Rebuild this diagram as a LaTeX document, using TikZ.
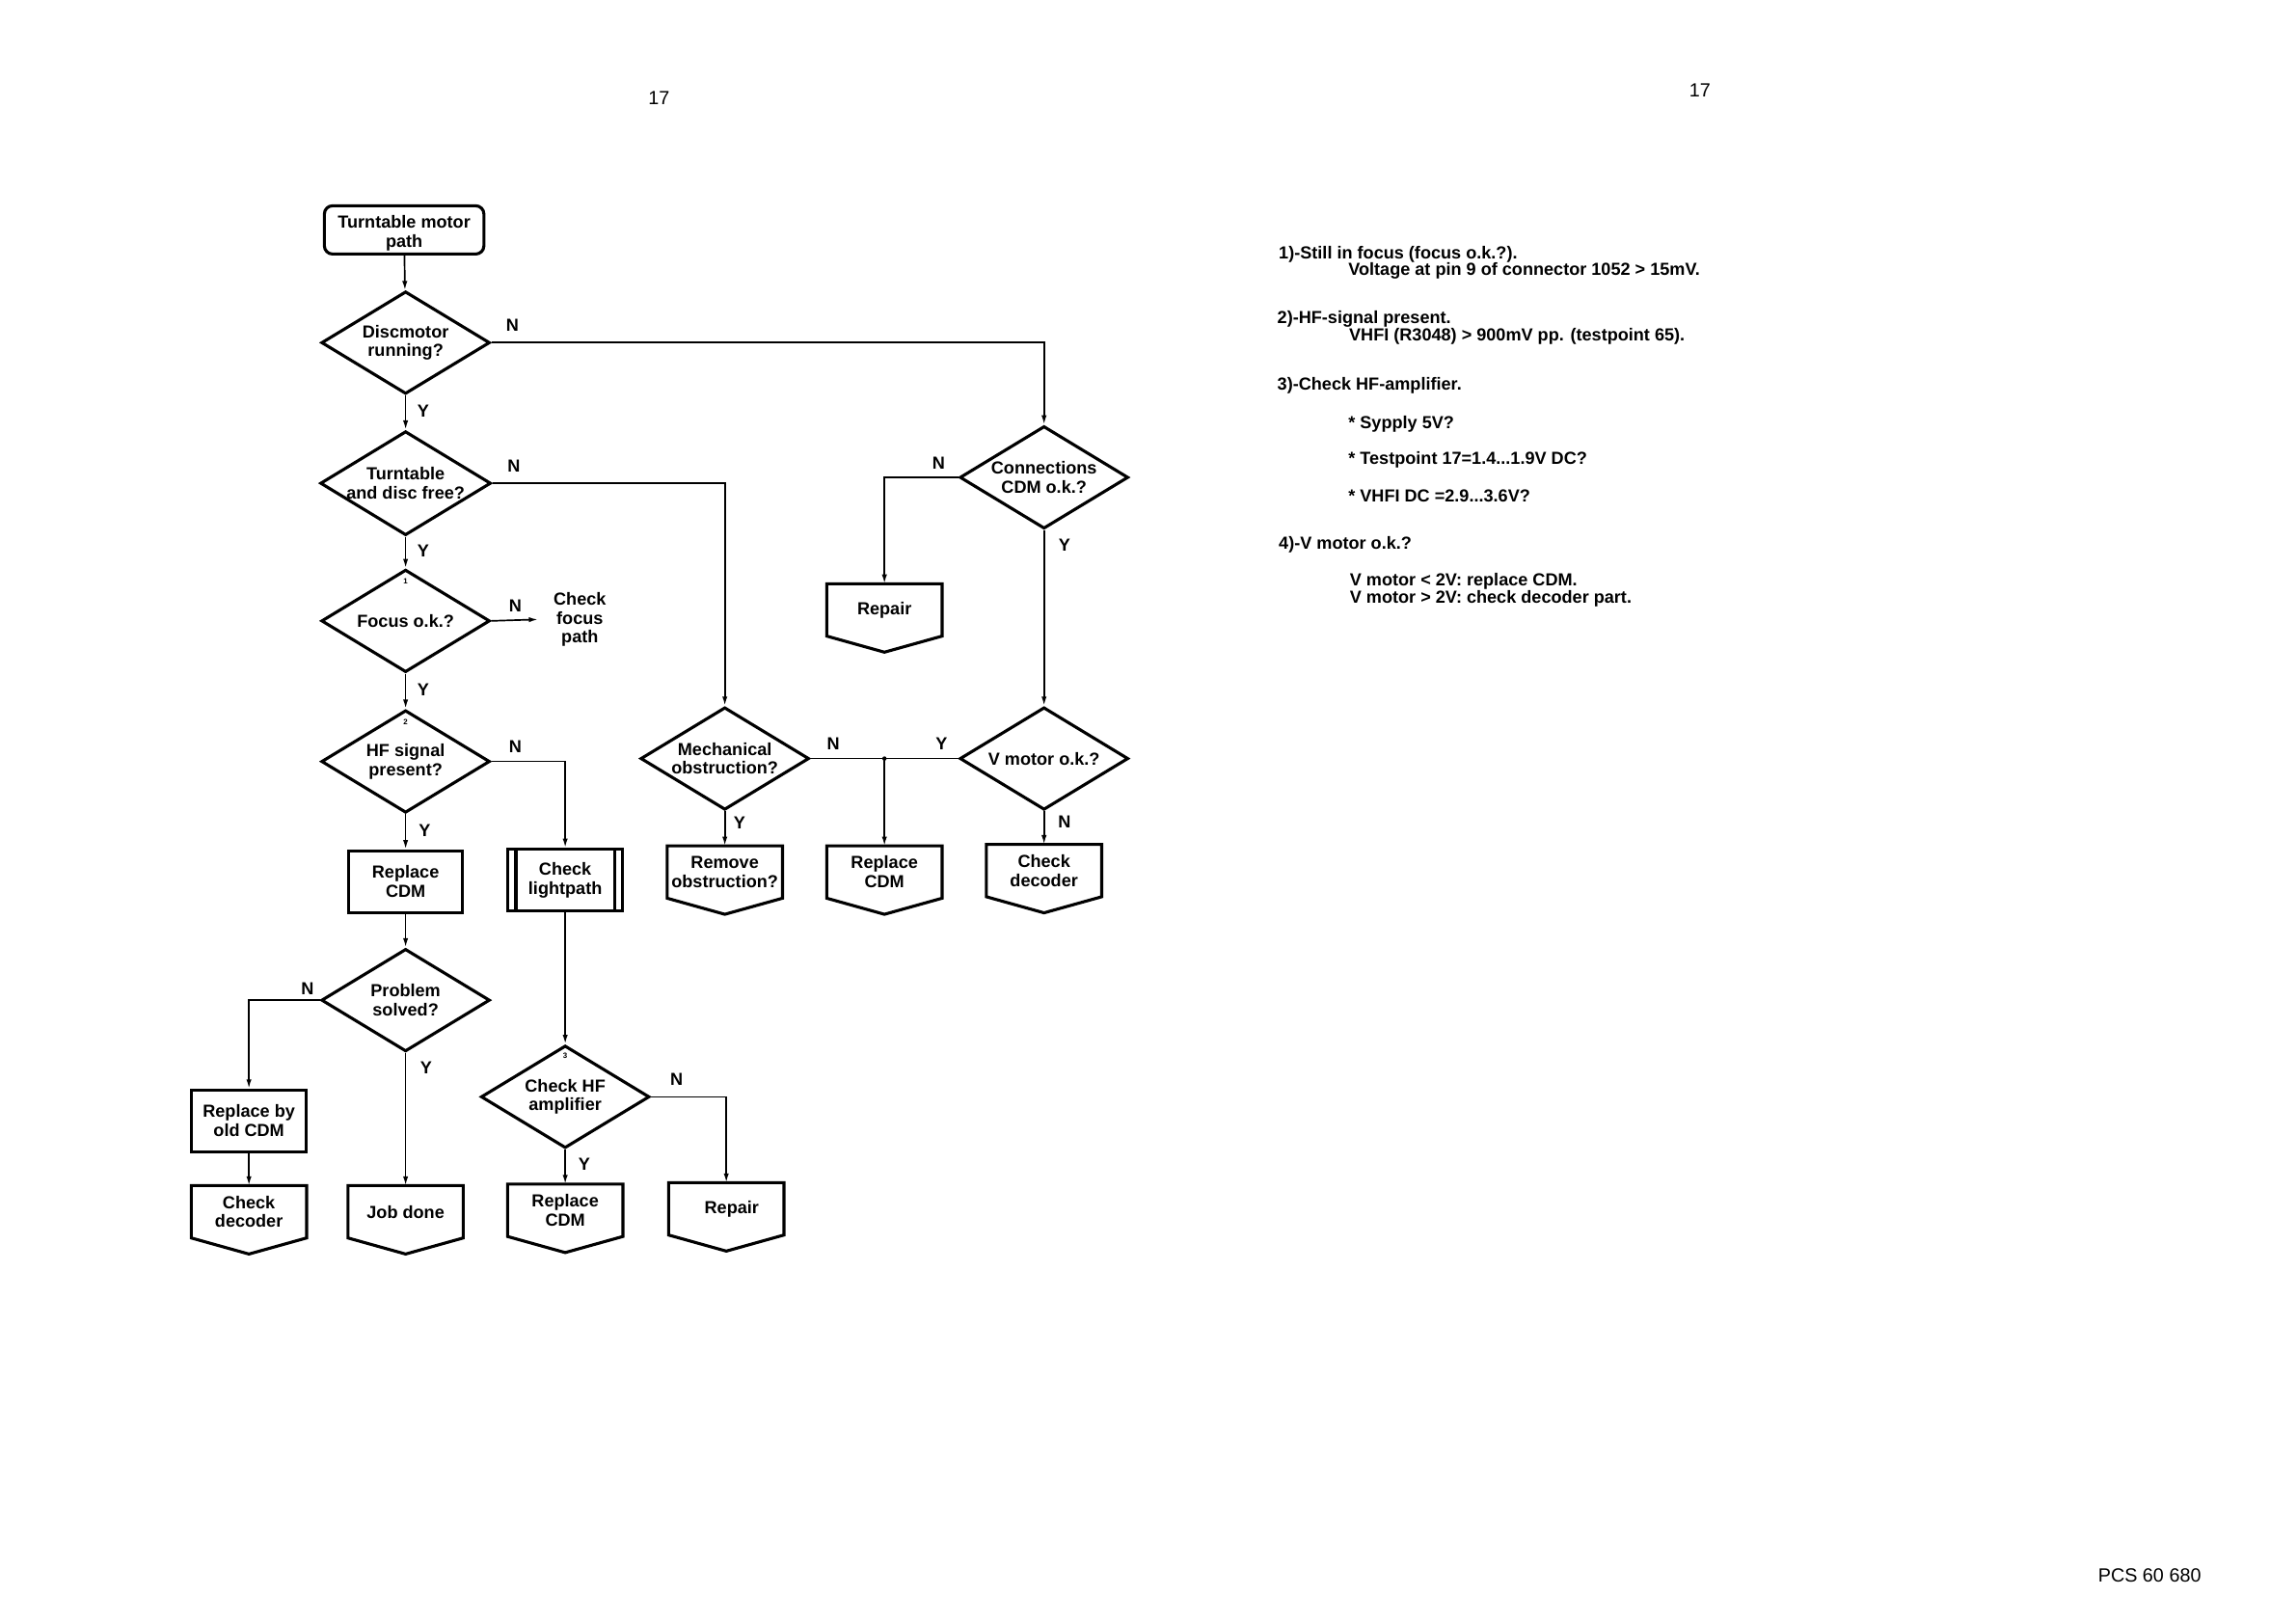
\documentclass[tikz,border=0pt]{standalone}
\usepackage{fontspec}
\setmainfont{Liberation Sans}
\usetikzlibrary{shapes.geometric,arrows.meta,calc}
\begin{document}
\begin{tikzpicture}[x=0.53699pt,y=-0.53699pt,
  every node/.style={font=\fontsize{6.4}{7}\selectfont\bfseries, inner sep=0pt, align=center},
  dec/.style={diamond, draw, line width=1.1pt, minimum width=61.8pt, minimum height=37.6pt, shape aspect=1.64},
  proc/.style={rectangle, draw, line width=1.1pt, minimum width=41.9pt, minimum height=22.6pt},
  opbox/.style={rectangle, minimum width=41.9pt, minimum height=18.8pt},
  boxline/.style={line width=1.1pt, line join=miter},
  conn/.style={line width=0.6pt},
  arr/.style={conn, -{Latex[length=3.4pt,width=1.9pt]}},
  lab/.style={font=\fontsize{6.4}{7}\selectfont\bfseries},
  notetext/.style={anchor=base west, font=\fontsize{6.4}{6.6}\selectfont\bfseries},
  smallnum/.style={font=\fontsize{2.8}{3}\selectfont\bfseries},
  pagenum/.style={font=\fontsize{7}{8}\selectfont}
]
\newcommand\offpg[4]{%
  \node[opbox] (#1) at (#2,#3) {#4};
  \draw[boxline] (#1.north west) -- (#1.north east) -- (#1.south east) -- ([yshift=-5.9pt]#1.south) -- (#1.south west) -- cycle;
}
\useasboundingbox (0,0) rectangle (1568,1108);

% page numbers
\node[pagenum] (p1) at (450,67) {17};
\node[pagenum] (p2) at (1161,62) {17};
\node[pagenum] (pcs) at (1468,1076) {PCS 60 680};

% left column
\node[rectangle, draw, line width=1.1pt, rounded corners=3pt, minimum width=58.5pt, minimum height=17.7pt] (start) at (276,157) {};
\node (starttext) at (276,159.5) {Turntable motor\\path};
\node[dec] (dm) at (277,234) {Discmotor\\running?};
\node[dec] (tt) at (277,330) {Turntable\\and disc free?};
\node[dec] (fo) at (277,424) {Focus o.k.?};
\node[dec] (hf) at (277,520) {HF signal\\present?};
\node[proc] (rc1) at (277,602) {Replace\\CDM};
\node[proc] (cl) at (386,601) {Check\\lightpath};
\draw[boxline] ([xshift=3.4pt]cl.north west) -- ([xshift=3.4pt]cl.south west);
\draw[boxline] ([xshift=-3.4pt]cl.north east) -- ([xshift=-3.4pt]cl.south east);
\node[dec] (ps) at (277,683) {Problem\\solved?};
\node[dec] (ch) at (386,749) {Check HF\\amplifier};
\node[proc] (rb) at (170,765.5) {Replace by\\old CDM};

% middle/right
\node[dec] (mo) at (495,518) {Mechanical\\obstruction?};
\node[dec] (vm) at (713,518) {V motor o.k.?};
\node[dec] (co) at (713,326) {Connections\\CDM o.k.?};

\offpg{rem}{495}{595.5}{Remove\\obstruction?}
\offpg{rc2}{604}{595.5}{Replace\\CDM}
\offpg{cd1}{713}{594.5}{Check\\decoder}
\offpg{rp1}{604}{416.5}{Repair}
\offpg{cd2}{170}{827.5}{Check\\decoder}
\offpg{jd}{277}{827.5}{Job done}
\offpg{rc3}{386}{826.5}{Replace\\CDM}
\offpg{rp2}{496}{825.5}{\hspace*{4pt}Repair}

\node (cfp) at (396,423) {Check\\focus\\path};

% small reference numbers
\node[smallnum] (n1) at (277,397) {1};
\node[smallnum] (n2) at (277,493) {2};
\node[smallnum] (n3) at (386,721) {3};

% connectors
\draw[arr] (start) -- (dm);
\draw[arr] (dm) -- (tt);
\draw[arr] (tt) -- (fo);
\draw[arr] (fo) -- (hf);
\draw[arr] (hf) -- (rc1);
\draw[arr] (rc1) -- (ps);
\draw[arr] (ps.south) -- (jd.north);
\draw[arr] (ps.west) -| (rb.north);
\draw[arr] (rb) -- (cd2);
\draw[arr] (dm.east) -| (co.north);
\draw[arr] (tt.east) -| (mo.north);
\draw[arr] (fo.east) -- ([xshift=-5.5pt]cfp.west);
\draw[arr] (hf.east) -| (cl.north);
\draw[arr] (cl) -- (ch);
\draw[arr] (ch.south) -- (rc3.north);
\draw[arr] (ch.east) -| (rp2.north);
\draw[arr] (mo.south) -- (rem.north);
\draw[conn] (mo.east) -- (vm.west);
\coordinate (jn) at (604,518);
\draw[arr] (jn) -- (rc2.north);
\fill (jn) circle (0.8pt);
\draw[arr] (co.west) -| (rp1.north);
\draw[arr] (co.south) -- (vm.north);
\draw[arr] (vm.south) -- (cd1.north);

% Y/N labels
\node[lab] at (350,222) {N};
\node[lab] at (289,281) {Y};
\node[lab] at (351,318) {N};
\node[lab] at (289,376) {Y};
\node[lab] at (352,414) {N};
\node[lab] at (289,471) {Y};
\node[lab] at (352,510) {N};
\node[lab] at (290,567) {Y};
\node[lab] at (569,508) {N};
\node[lab] at (643,508) {Y};
\node[lab] at (505,562) {Y};
\node[lab] at (727,561) {N};
\node[lab] at (641,316) {N};
\node[lab] at (727,372) {Y};
\node[lab] at (210,675) {N};
\node[lab] at (291,729) {Y};
\node[lab] at (462,737) {N};
\node[lab] at (399,795) {Y};

% notes
\node[notetext] (t1) at (873,176.5) {1)-Still in focus (focus o.k.?).};
\node[notetext] (t1b) at (920.5,188) {Voltage at pin 9 of connector 1052 > 15mV.};
\node[notetext] (t2) at (872,221) {2)-HF-signal present.};
\node[notetext] (t2b) at (921,233) {VHFI (R3048) > 900mV pp. (testpoint 65).};
\node[notetext] (t3) at (872,266.5) {3)-Check HF-amplifier.};
\node[notetext] (t3a) at (920.5,292.5) {* Sypply 5V?};
\node[notetext] (t3b) at (920.5,317) {* Testpoint 17=1.4...1.9V DC?};
\node[notetext] (t3c) at (920.5,342.5) {* VHFI DC =2.9...3.6V?};
\node[notetext] (t4) at (873,375) {4)-V motor o.k.?};
\node[notetext] (t4a) at (921.5,400) {V motor < 2V: replace CDM.};
\node[notetext] (t4b) at (921.5,412) {V motor > 2V: check decoder part.};
\end{tikzpicture}
\end{document}
